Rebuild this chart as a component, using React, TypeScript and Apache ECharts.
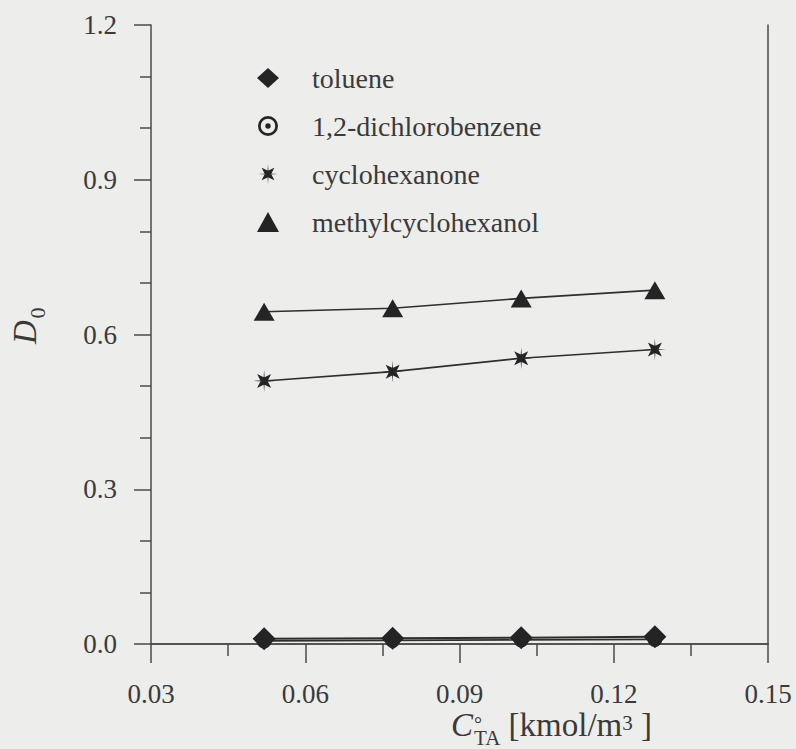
import React, { useEffect, useRef } from "react";
import * as echarts from "echarts";

const concentrations = [0.052, 0.077, 0.102, 0.128];
const toluene = [0.010, 0.011, 0.012, 0.014];
const dichlorobenzene = [0.006, 0.007, 0.008, 0.009];
const cyclohexanone = [0.510, 0.528, 0.554, 0.571];
const methylcyclohexanol = [0.644, 0.651, 0.670, 0.686];
const seriesNames = ["toluene", "1,2-dichlorobenzene", "cyclohexanone", "methylcyclohexanol"];

const FONT = "Times New Roman, Liberation Serif, DejaVu Serif, serif";
const INK = "#3a3a3a";
const MARK = "#242424";
const AXIS = "#4a4a4a";

const ASTERISK =
  "path://M81.8,18.2 L66,50 L81.8,81.8 L50,66 L18.2,81.8 L34,50 L18.2,18.2 L50,34 Z M100,50 L53,53 L50,100 L47,53 L0,50 L47,47 L50,0 L53,47 Z";
const RING =
  "path://M50,2 A48,48 0 0,1 50,98 A48,48 0 0,1 50,2 Z M50,15 A35,35 0 0,0 50,85 A35,35 0 0,0 50,15 Z M50,37 A13,13 0 0,1 50,63 A13,13 0 0,1 50,37 Z";

function pairs(ys: number[]) {
  return concentrations.map((x, i) => [x, ys[i]]);
}

export default function App() {
  const ref = useRef<HTMLDivElement>(null);
  useEffect(() => {
    if (!ref.current) return;
    const chart = echarts.init(ref.current, null, { renderer: "svg" });
    const lineStyle = { color: "#2e2e2e", width: 1.6 };
    chart.setOption({
      animation: false,
      backgroundColor: "#ededeb",
      textStyle: { fontFamily: FONT },
      grid: { left: 151, right: 28, top: 25, bottom: 105 },
      legend: {
        orient: "vertical",
        left: 252,
        top: 58,
        itemWidth: 22,
        itemHeight: 20,
        itemGap: 18,
        selectedMode: false,
        textStyle: {
          fontFamily: FONT,
          fontSize: 28,
          color: INK,
          lineHeight: 30,
          padding: [0, 0, 0, 28],
        },
        data: [
          { name: seriesNames[0], icon: "diamond" },
          { name: seriesNames[1], icon: RING, itemStyle: { color: MARK } },
          { name: seriesNames[2], icon: ASTERISK },
          { name: seriesNames[3], icon: "triangle" },
        ],
      },
      xAxis: [
        {
          type: "value",
          min: 0.03,
          max: 0.15,
          interval: 0.03,
          axisLine: { lineStyle: { color: AXIS, width: 1.5 } },
          axisTick: { length: 19, lineStyle: { color: AXIS, width: 1.5 } },
          minorTick: { show: true, splitNumber: 2, length: 12, lineStyle: { color: AXIS, width: 1.5 } },
          splitLine: { show: false },
          axisLabel: {
            margin: 36,
            fontFamily: FONT,
            fontSize: 27,
            color: INK,
            formatter: (v: number) => v.toFixed(2),
          },
        },
        {
          type: "value",
          position: "top",
          min: 0.03,
          max: 0.15,
          axisLine: { show: true, lineStyle: { color: AXIS, width: 1.5 } },
          axisTick: { show: false },
          axisLabel: { show: false },
          splitLine: { show: false },
        },
      ],
      yAxis: [
        {
          type: "value",
          min: 0,
          max: 1.2,
          interval: 0.3,
          axisLine: { show: true, lineStyle: { color: AXIS, width: 1.5 } },
          axisTick: { show: true, length: 17, lineStyle: { color: AXIS, width: 1.5 } },
          minorTick: { show: true, splitNumber: 3, length: 11, lineStyle: { color: AXIS, width: 1.5 } },
          splitLine: { show: false },
          axisLabel: {
            margin: 34,
            fontFamily: FONT,
            fontSize: 27,
            color: INK,
            formatter: (v: number) => v.toFixed(1),
          },
        },
        {
          type: "value",
          position: "right",
          min: 0,
          max: 1.2,
          axisLine: { show: true, lineStyle: { color: AXIS, width: 1.5 } },
          axisTick: { show: false },
          axisLabel: { show: false },
          splitLine: { show: false },
        },
      ],
      series: [
        {
          name: seriesNames[1],
          type: "line",
          data: pairs(dichlorobenzene),
          symbol: RING,
          symbolSize: 15,
          itemStyle: { color: MARK },
          lineStyle,
          z: 2,
        },
        {
          name: seriesNames[0],
          type: "line",
          data: pairs(toluene),
          symbol: "diamond",
          symbolSize: 23,
          itemStyle: { color: MARK },
          lineStyle: { color: "#2e2e2e", width: 2 },
          z: 3,
        },
        {
          name: seriesNames[2],
          type: "line",
          data: pairs(cyclohexanone),
          symbol: ASTERISK,
          symbolSize: 22,
          itemStyle: { color: MARK },
          lineStyle,
          z: 3,
        },
        {
          name: seriesNames[3],
          type: "line",
          data: pairs(methylcyclohexanol),
          symbol: "triangle",
          symbolSize: [21, 18],
          itemStyle: { color: MARK },
          lineStyle,
          z: 3,
        },
      ],
      graphic: [
        {
          type: "text",
          x: 451,
          y: 725,
          style: {
            text: "{c|C}{d|°}{t|TA}{m| [kmol/m}{s|3}{m| ]}",
            fill: INK,
            align: "left",
            verticalAlign: "middle",
            rich: {
              c: { fontFamily: FONT, fontStyle: "italic", fontSize: 33, lineHeight: 56, verticalAlign: "middle", fill: INK },
              d: { fontFamily: FONT, fontSize: 20, lineHeight: 20, width: 0, verticalAlign: "middle", padding: [0, 0, 2, 1], fill: INK },
              m: { fontFamily: FONT, fontSize: 33, lineHeight: 56, verticalAlign: "middle", fill: INK },
              t: { fontFamily: FONT, fontSize: 21, lineHeight: 21, verticalAlign: "middle", padding: [26, 0, 0, 0], fill: INK },
              s: { fontFamily: FONT, fontSize: 21, lineHeight: 21, verticalAlign: "middle", padding: [0, 0, 4, 0], fill: INK },
            },
          },
        },
        { type: "text", x: 25, y: 332, rotation: Math.PI / 2, style: { text: "D", fontFamily: FONT, fontStyle: "italic", fontSize: 33, fill: INK, align: "center", verticalAlign: "middle" } },
        { type: "text", x: 37, y: 313, rotation: Math.PI / 2, style: { text: "0", fontFamily: FONT, fontSize: 22, fill: INK, align: "center", verticalAlign: "middle" } },
      ],
    });
    return () => chart.dispose();
  }, []);
  return (
    <div
      ref={ref}
      style={{ position: "fixed", left: 0, top: 0, width: 796, height: 749 }}
    />
  );
}
